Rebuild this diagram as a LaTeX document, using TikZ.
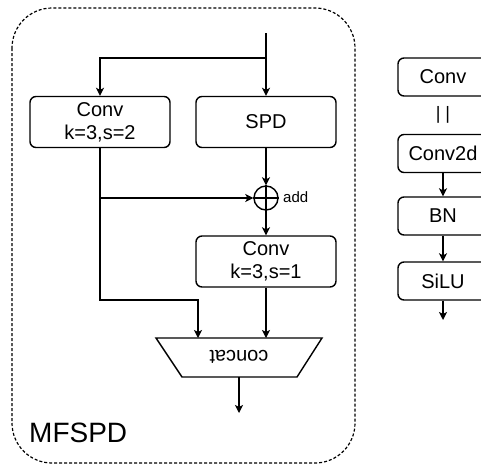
\documentclass[tikz,border=0pt]{standalone}
\usepackage{fontspec}
\setmainfont{Liberation Sans}
\usetikzlibrary{arrows.meta}
\begin{document}
\begin{tikzpicture}[x=1pt,y=-1pt,
  box/.style={draw, rounded corners=6pt, line width=1.4pt, minimum width=140pt, minimum height=51pt, inner sep=0pt, align=center, font=\fontsize{20}{23}\selectfont},
  sbox/.style={draw, rounded corners=6pt, line width=1.4pt, minimum width=90pt, minimum height=38pt, inner sep=0pt, font=\fontsize{20}{24}\selectfont},
  arr/.style={line width=1.4pt, -{Stealth[length=8pt,width=8pt,inset=2pt]}},
  ln/.style={line width=1.4pt}]
\useasboundingbox (0,0) rectangle (481,466);
\clip (0,0) rectangle (481,466);
\fill[white] (0,0) rectangle (481,466);
\draw[line width=1.2pt, dash pattern=on 3pt off 2pt, rounded corners=40pt] (12,8) rectangle (355,463);
% left diagram
\node[box] (c1) at (100,122) {Conv\\k=3,s=2};
\node[box] (spd) at (266,122) {SPD};
\node[draw, circle, minimum size=24pt, inner sep=0pt, line width=1.4pt] (add) at (266,198) {};
\draw[ln] (add.north) -- (add.south) (add.west) -- (add.east);
\node[font=\fontsize{15}{18}\selectfont, anchor=west, inner sep=0pt] (addl) at (283,197) {add};
\node[box] (c2) at (266,261.5) {Conv\\k=3,s=1};
\coordinate (in) at (266,33);
\coordinate (br) at (266,58);
\coordinate (j) at (100,300);
\coordinate (t1) at (198,338);
\coordinate (t2) at (266,338);
\coordinate (cb) at (239,377);
\coordinate (out) at (239,413);
\draw[arr] (in) -- (spd.north);
\draw[arr] (br) -| (c1.north);
\draw[arr] (spd.south) -- (add.north);
\draw[arr] (c1.south) |- (add.west);
\draw[arr] (c1.south) -- (j) -| (t1);
\draw[arr] (add.south) -- (c2.north);
\draw[arr] (c2.south) -- (t2);
\draw[ln, line join=miter] (156,338) -- (322,338) -- (297,377) -- (182,377) -- cycle;
\node[rotate=180, font=\fontsize{20}{24}\selectfont] (concat) at (239,357) {concat};
\draw[arr] (cb) -- (out);
\node[anchor=west, inner sep=0pt, font=\fontsize{28}{32}\selectfont] (title) at (29,433) {MFSPD};
% right legend
\node[sbox] (rc) at (443,77) {Conv};
\node[font=\fontsize{18}{20}\selectfont] (eq) at (443,115) {| |};
\node[sbox] (c2d) at (443,153.5) {Conv2d};
\node[sbox] (bn) at (443,216) {BN};
\node[sbox] (silu) at (443,281) {SiLU};
\coordinate (rout) at (443,320);
\draw[arr] (c2d) -- (bn);
\draw[arr] (bn) -- (silu);
\draw[arr] (silu) -- (rout);
\end{tikzpicture}
\end{document}
